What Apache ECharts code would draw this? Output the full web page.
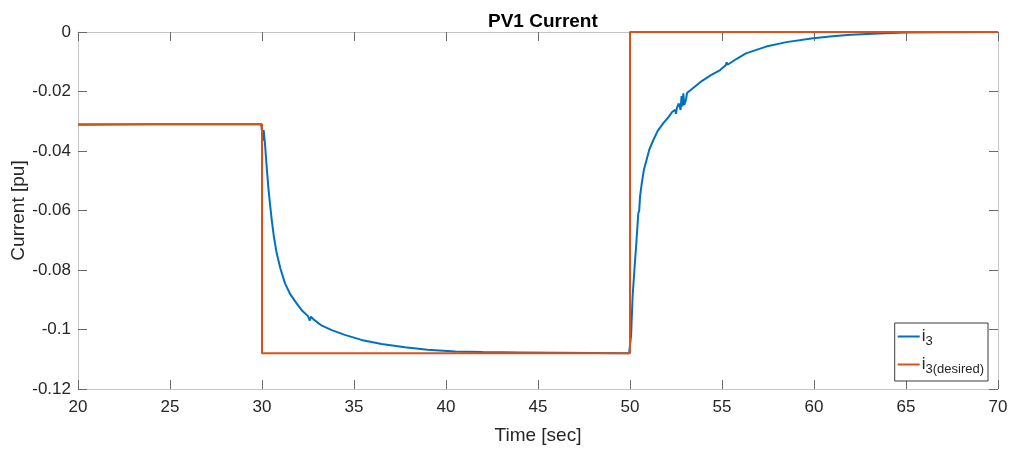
<!DOCTYPE html>
<html>
<head>
<meta charset="utf-8">
<script src="https://cdn.jsdelivr.net/npm/echarts@6/dist/echarts.min.js"></script>
<style>
html,body{margin:0;padding:0;background:#fff;}
#chart{width:1011px;height:449px;}
</style>
</head>
<body>
<div id="chart"></div>
<script>
// ---- data ----
var title = 'PV1 Current';
var xName = 'Time [sec]';
var yName = 'Current [pu]';
var seriesNames = ['i3', 'i3(desired)'];

// measured current i3: [time, value]
var i3 = [
  [20,-0.0312],[24,-0.0310],[29.95,-0.0310],[30.02,-0.0312],[30.06,-0.0365],[30.09,-0.0330],
  [30.16,-0.0374],[30.25,-0.045],[30.34,-0.052],[30.43,-0.0575],[30.53,-0.0632],[30.65,-0.069],
  [30.8,-0.0744],[31.0,-0.0795],[31.25,-0.0845],[31.55,-0.0883],[31.88,-0.0912],[32.2,-0.0938],
  [32.5,-0.0955],[32.6,-0.0970],[32.66,-0.0957],[32.8,-0.0966],[33.2,-0.0985],[33.79,-0.1002],
  [34.5,-0.1018],[35.4,-0.1035],[36.5,-0.1049],[37.77,-0.1060],[39,-0.1068],[40.5,-0.1074],
  [42,-0.1076],[44,-0.1077],[46,-0.1078],[48,-0.1079],[49.95,-0.1080],
  [50.02,-0.1075],[50.06,-0.1020],[50.14,-0.0890],[50.25,-0.0790],[50.33,-0.0722],[50.45,-0.0610],
  [50.5,-0.0600],[50.55,-0.0550],[50.64,-0.0509],[50.75,-0.0465],[50.9,-0.0430],[51.05,-0.0395],
  [51.27,-0.0363],[51.5,-0.0333],[51.8,-0.0307],[52.1,-0.0285],[52.3,-0.0268],[52.45,-0.0262],
  [52.5,-0.0275],[52.55,-0.0255],[52.65,-0.0240],[52.75,-0.0262],[52.8,-0.0215],[52.85,-0.0250],
  [52.9,-0.0206],[52.95,-0.0245],[53.05,-0.0225],[53.1,-0.0205],[53.4,-0.0190],[53.9,-0.0165],
  [54.4,-0.0145],[54.9,-0.0128],[55.2,-0.0112],[55.25,-0.0102],[55.3,-0.0110],[55.8,-0.0090],
  [56.3,-0.0072],[57.4,-0.0049],[58.5,-0.0034],[59.95,-0.0021],[61,-0.0014],[62,-0.0009],
  [63.5,-0.0005],[65,-0.0002],[67,-0.0001],[70,0]
];

// desired current i3(desired): step profile [time, value]
var i3desired = [
  [20,-0.031],[30,-0.031],[30,-0.108],[50,-0.108],[50,0],[70,0]
];

var xTicks = {min:20, max:70, interval:5};
var yTicks = {min:-0.12, max:0, interval:0.02};

// ---- chart ----
var chart = echarts.init(document.getElementById('chart'), null, {renderer:'canvas'});
var font = 'Liberation Sans, Arial, Helvetica, sans-serif';
var frameColor = '#c6c6c6';
var tickColor = '#6a6a6a';
var textColor = '#262626';

function axisBase(pos, showLabel){
  var isX = (pos==='bottom'||pos==='top');
  return {
    type:'value', position:pos,
    min: isX ? xTicks.min : yTicks.min,
    max: isX ? xTicks.max : yTicks.max,
    interval: isX ? xTicks.interval : yTicks.interval,
    axisLine:{show:true, onZero:false, lineStyle:{color:frameColor, width:1}},
    axisTick:{show:true, inside:true, length:9, lineStyle:{color:tickColor, width:1}},
    axisLabel:{show:showLabel, color:textColor, fontFamily:font, fontSize:17,
      margin: (pos==='bottom') ? 10 : 7},
    splitLine:{show:false}
  };
}

var xBottom = axisBase('bottom', true);
xBottom.name = xName; xBottom.nameLocation = 'middle'; xBottom.nameGap = 37;
xBottom.nameMoveOverlap = false;
xBottom.nameTextStyle = {color:textColor, fontFamily:font, fontSize:19};
var xTop = axisBase('top', false);
var yLeft = axisBase('left', true);
yLeft.name = yName; yLeft.nameLocation = 'middle'; yLeft.nameGap = 50;
yLeft.nameMoveOverlap = false;
yLeft.nameTextStyle = {color:textColor, fontFamily:font, fontSize:19};
var yRight = axisBase('right', false);

var rich = {
  m:{fontSize:17, fontFamily:font, color:textColor},
  s:{fontSize:13, fontFamily:font, color:textColor, padding:[10,0,0,0]}
};

chart.setOption({
  animation:false,
  backgroundColor:'#ffffff',
  title:{text:title, left:483, top:7,
    textStyle:{fontFamily:font, fontSize:19, fontWeight:'bold', color:'#000'}},
  grid:{left:78, right:13, top:32, bottom:60, outerBoundsMode:'none', containLabel:false},
  xAxis:[xBottom, xTop],
  yAxis:[yLeft, yRight],
  legend:{
    orient:'vertical', right:23, bottom:68,
    backgroundColor:'#fff', borderColor:'#3a3a3a', borderWidth:1, borderRadius:0,
    padding:[5,4,5,3], itemGap:8, itemWidth:22, itemHeight:2, icon:'rect',
    data:seriesNames,
    formatter:function(n){ return '{m|i}{s|' + n.slice(1) + '}'; },
    textStyle:{rich:rich, padding:[0,0,0,-3]}
  },
  series:[
    {name:seriesNames[0], type:'line', data:i3, xAxisIndex:0, yAxisIndex:0,
     showSymbol:false, symbol:'none', lineStyle:{color:'#0072BD', width:2}, itemStyle:{color:'#0072BD'}},
    {name:seriesNames[1], type:'line', data:i3desired, xAxisIndex:0, yAxisIndex:0,
     showSymbol:false, symbol:'none', lineStyle:{color:'#D95319', width:2}, itemStyle:{color:'#D95319'}}
  ]
});
</script>
</body>
</html>
